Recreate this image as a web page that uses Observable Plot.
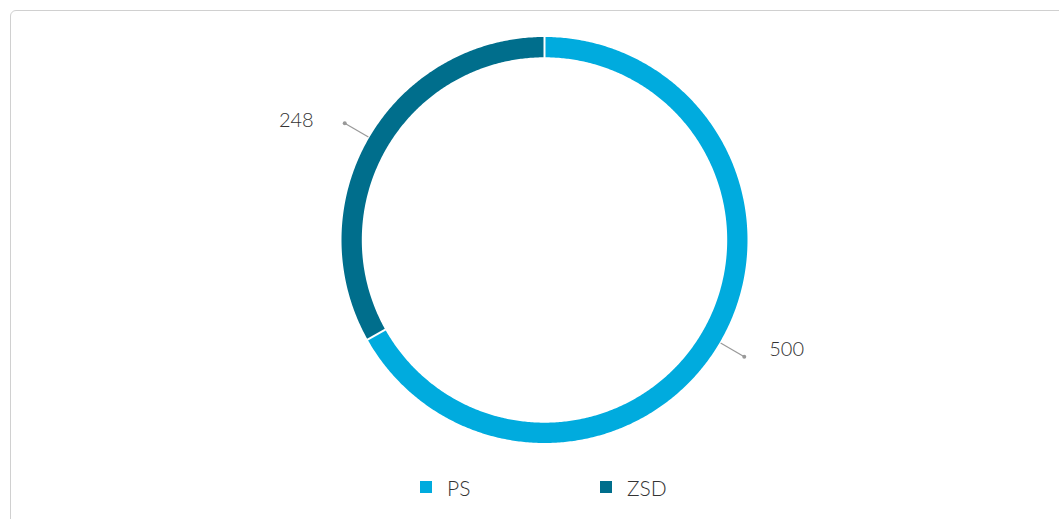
<!DOCTYPE html>
<html><head><meta charset="utf-8">
<script src="https://cdn.jsdelivr.net/npm/d3@7"></script>
<script src="https://cdn.jsdelivr.net/npm/@observablehq/plot@0.6"></script>
<style>
body{margin:0;background:#fff;font-family:Lato,"Open Sans",sans-serif;width:1059px;height:519px;overflow:hidden;position:relative;}
#card{position:absolute;left:10px;top:10px;width:1100px;height:600px;border:1px solid #d0d0d0;border-radius:6px;box-sizing:border-box;}
#chart{position:absolute;left:0;top:0;}
#legend{position:absolute;left:0;top:0;width:1059px;height:519px;pointer-events:none;}
.item{position:absolute;display:flex;align-items:center;font-size:21px;font-weight:300;color:#333;height:24px;}
.sw{width:12px;height:12px;margin-right:15px;}
</style></head>
<body>
<div id="card"></div>
<div id="chart"></div>
<div id="legend"></div>
<script>
const categories = ["PS", "ZSD"];
const values = [500, 248];
const colors = ["#00ABDE", "#006E8C"];

const total = d3.sum(values);
const slices = [];
let acc = 0;
categories.forEach((c, i) => {
  const a0 = acc / total * 2 * Math.PI;
  acc += values[i];
  const a1 = acc / total * 2 * Math.PI;
  slices.push({cat: c, value: values[i], a0, a1, mid: (a0 + a1) / 2});
});

const rOuter = 1, rInner = 0.9;
const ringPts = [];
for (const s of slices) {
  const n = Math.max(2, Math.ceil((s.a1 - s.a0) / (Math.PI / 360)));
  for (let k = 0; k <= n; k++) {
    const a = s.a0 + (s.a1 - s.a0) * k / n;
    ringPts.push({cat: s.cat, x: rOuter * Math.sin(a), y: rOuter * Math.cos(a)});
  }
  for (let k = n; k >= 0; k--) {
    const a = s.a0 + (s.a1 - s.a0) * k / n;
    ringPts.push({cat: s.cat, x: rInner * Math.sin(a), y: rInner * Math.cos(a)});
  }
}
const leaders = slices.map(s => ({
  cat: s.cat, value: s.value,
  x1: 1.005 * Math.sin(s.mid), y1: 1.005 * Math.cos(s.mid),
  x2: 1.14 * Math.sin(s.mid), y2: 1.14 * Math.cos(s.mid),
  right: Math.sin(s.mid) >= 0
}));
const seps = slices.map(s => ({
  x1: (rInner - 0.01) * Math.sin(s.a0), y1: (rInner - 0.01) * Math.cos(s.a0),
  x2: (rOuter + 0.01) * Math.sin(s.a0), y2: (rOuter + 0.01) * Math.cos(s.a0)
}));

const plot = Plot.plot({
  width: 1059,
  height: 470,
  margin: 0,
  x: {domain: [-1, 1], range: [341, 747], axis: null},
  y: {domain: [-1, 1], range: [442.5, 36.5], axis: null},
  color: {domain: categories, range: colors},
  style: {background: "transparent", fontFamily: "Lato, 'Open Sans', sans-serif"},
  marks: [
    Plot.line(ringPts, {x: "x", y: "y", z: "cat", fill: "cat", stroke: "none", curve: "linear-closed"}),
    Plot.link(seps, {x1: "x1", y1: "y1", x2: "x2", y2: "y2", stroke: "white", strokeWidth: 2}),
    Plot.link(leaders, {x1: "x1", y1: "y1", x2: "x2", y2: "y2", stroke: "#999", strokeWidth: 1.2}),
    Plot.dot(leaders, {x: "x2", y: "y2", r: 2, fill: "#999"}),
    Plot.text(leaders.filter(d => d.right), {x: "x2", y: "y2", text: d => String(d.value), textAnchor: "start", dx: 25, dy: -7, fontSize: 20, fontWeight: 300, fill: "#333"}),
    Plot.text(leaders.filter(d => !d.right), {x: "x2", y: "y2", text: d => String(d.value), textAnchor: "end", dx: -31, dy: -3, fontSize: 20, fontWeight: 300, fill: "#333"})
  ]
});
document.getElementById("chart").appendChild(plot);

const legend = document.getElementById("legend");
const lx = [420, 600];
categories.forEach((c, i) => {
  const it = document.createElement("div");
  it.className = "item";
  it.style.left = lx[i] + "px";
  it.style.top = "475px";
  it.innerHTML = `<span class="sw" style="background:${colors[i]}"></span><span>${c}</span>`;
  legend.appendChild(it);
});
</script>
</body></html>
